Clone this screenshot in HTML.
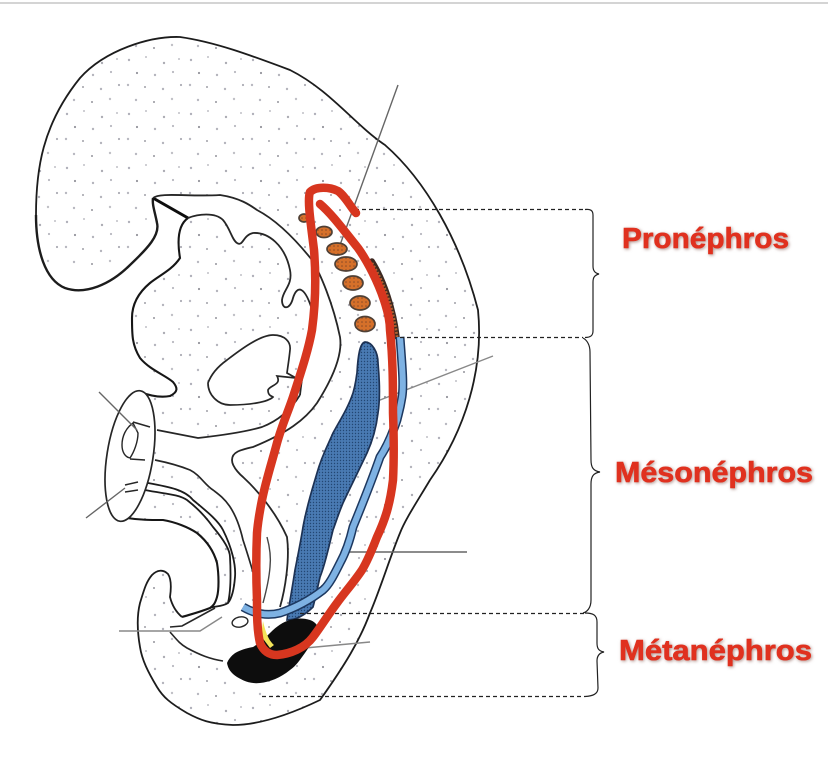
<!DOCTYPE html>
<html>
<head>
<meta charset="utf-8">
<style>
html,body{margin:0;padding:0;background:#fff;width:828px;height:783px;overflow:hidden}
svg{display:block}
text{font-family:"Liberation Sans",sans-serif;font-weight:bold;fill:#e0311f;stroke:#e0311f;stroke-width:.6;font-size:29px;filter:drop-shadow(1px 1.500px 1.500px rgba(120,70,60,.6))}
</style>
</head>
<body>
<svg width="828" height="783" viewBox="0 0 828 783" xmlns="http://www.w3.org/2000/svg">
<defs>
<pattern id="dots" width="62" height="54" patternUnits="userSpaceOnUse">
<circle cx="5" cy="6" r="1.200" fill="#b0b0ba"/>
<circle cx="22" cy="3" r="1" fill="#c0c0c6"/>
<circle cx="40" cy="9" r="1.200" fill="#acacb4"/>
<circle cx="55" cy="5" r="1" fill="#c0c0c6"/>
<circle cx="13" cy="19" r="1.100" fill="#94949c"/>
<circle cx="31" cy="21" r="1.200" fill="#b4b4bc"/>
<circle cx="49" cy="18" r="1.100" fill="#b8b8c0"/>
<circle cx="4" cy="31" r="1.200" fill="#b8b8c0"/>
<circle cx="21" cy="33" r="1" fill="#a0a0a8"/>
<circle cx="39" cy="35" r="1.200" fill="#b4b4bc"/>
<circle cx="57" cy="31" r="1.100" fill="#acacb4"/>
<circle cx="12" cy="46" r="1.200" fill="#b8b8c0"/>
<circle cx="30" cy="48" r="1" fill="#94949c"/>
<circle cx="48" cy="45" r="1.200" fill="#c0c0c6"/>
</pattern>
<pattern id="mesh" width="3" height="3" patternUnits="userSpaceOnUse">
<rect width="3" height="3" fill="#4a7ab3"/>
<circle cx="1.500" cy="1.500" r=".7" fill="#234673"/>
</pattern>
<pattern id="ov" width="4" height="4" patternUnits="userSpaceOnUse">
<rect width="4" height="4" fill="#d5702c"/>
<circle cx="2" cy="2" r=".8" fill="#8a4a26"/>
</pattern>
<filter id="soft" x="-5%" y="-5%" width="110%" height="110%"><feGaussianBlur stdDeviation=".3"/></filter>
</defs>
<rect width="828" height="783" fill="#fff"/>
<rect x="0" y="2" width="828" height="2" fill="#d4d4d4"/>

<g filter="url(#soft)">
<!-- body dots -->
<path d="M36 215C36 170 42 125 80 78C105 50 150 36 180 37C215 42 250 55 290 70C330 90 355 125 385 145C425 180 460 240 478 310C484 370 465 430 430 480C415 505 405 520 400 533C390 557 380 590 370 613C360 640 345 665 320 700C295 712 262 725 233 725C210 724 200 720 187 713C170 703 163 697 157 687C148 672 142 660 140 647C137 630 137 615 140 603C144 590 146 582 152 575C157 570 163 569 168 574C172 580 171 590 170 597C172 605 176 612 182 617L132 350L130 265C110 285 85 295 65 288C45 280 36 250 36 215Z" fill="url(#dots)"/>

<!-- outside white -->
<path d="M153 198L188 218L178 237L180 258L150 283L132 307L132 347L150 370L173 382L177 392L163 397L140 392L110 420L100 520L127 520L163 520L197 533L217 563L217 597L210 608L182 617L170 597L170 580L163 570L152 575L140 603L100 603L0 603L0 265L130 265L157 223Z" fill="#fff"/>

<!-- inner white cavity -->
<path d="M153 198C160 192 190 197 220 195C240 198 250 205 257 210C280 222 300 245 312 260C320 273 333 303 340 337C342 350 338 370 317 403C305 420 287 433 253 447C240 450 232 452 232 460C232 468 243 477 243 477C255 488 275 510 287 537C290 560 285 590 280 607L262 625L250 640L223 661C205 660 187 650 170 632L182 617L157 520L127 518L157 460L157 430L198 438C225 435 245 432 262 427C280 420 292 408 300 395C303 367 308 343 313 313C308 295 300 285 293 298C290 310 282 310 282 300C283 290 293 285 290 270C285 245 268 232 253 233C243 235 243 247 237 243C232 238 228 222 223 220C215 212 200 214 188 218Z" fill="#fff"/>

<!-- dotted bands -->
<path d="M155 460L190 470L213 490L230 505L243 540L253 572L255 608L232 605L232 570L220 540L193 503L148 486Z" fill="url(#dots)"/>
<path d="M127 518L163 520L197 533L217 563L217 597L210 608L229 603L230 557L213 527L187 500L145 490Z" fill="url(#dots)"/>

<!-- outlines -->
<path d="M36 215C36 170 42 125 80 78C105 50 150 36 180 37C215 42 250 55 290 70C330 90 355 125 385 145C425 180 460 240 478 310C484 370 465 430 430 480C415 505 405 520 400 533C390 557 380 590 370 613C360 640 345 665 320 700C295 712 262 725 233 725C210 724 200 720 187 713C170 703 163 697 157 687C148 672 142 660 140 647C137 630 137 615 140 603C144 590 146 582 152 575C157 570 163 569 168 574C172 580 171 590 170 597C172 605 176 612 182 617" fill="none" stroke="#1e1e1e" stroke-width="1.800"/>
<path d="M36 215C36 250 45 280 65 288C85 295 110 285 130 265C148 248 160 235 157 223C155 212 152 205 153 198" fill="none" stroke="#1e1e1e" stroke-width="2.400"/>
<path d="M153 198L188 218" stroke="#111" stroke-width="3" fill="none"/>
<path d="M153 198C160 192 190 197 220 195C240 198 250 205 257 210C280 222 300 245 312 260C320 273 333 303 340 337C342 350 338 370 317 403C305 420 287 433 253 447C240 450 232 452 232 460C232 468 243 477 243 477C255 488 275 510 287 537C290 560 285 590 280 607" fill="none" stroke="#262626" stroke-width="1.800"/>
<path d="M188 218C198 214 215 212 223 220C230 228 232 240 237 243C243 247 243 235 253 233C268 232 285 245 290 270C293 285 283 290 282 300C282 310 290 310 293 298C297 285 305 285 313 313C308 343 303 367 300 395" fill="none" stroke="#262626" stroke-width="1.800"/>
<path d="M188 218C178 225 177 240 180 258C172 270 160 275 150 283C138 293 132 305 132 318C132 335 132 345 140 358C150 370 165 375 173 382C178 388 178 392 170 396C160 398 148 395 140 392" fill="none" stroke="#161616" stroke-width="2.100"/>

<!-- heart oval -->
<path d="M208 383C212 372 220 365 227 360C240 350 260 335 273 335C285 335 291 342 290 350C289 360 288 365 287 373L296 378L277 376C282 385 270 385 268 390C268 396 272 396 273 397C268 402 250 405 230 405C218 405 208 395 208 383Z" fill="#fff" stroke="#262626" stroke-width="1.700"/>

<path d="M157 430L198 438C225 435 245 432 262 427C280 420 292 408 300 395" fill="none" stroke="#262626" stroke-width="1.700"/>
<path d="M155 460C170 463 180 466 190 470C200 475 205 485 213 490C222 497 235 505 243 540C247 552 250 562 253 572" fill="none" stroke="#262626" stroke-width="1.700"/>
<path d="M148 483C170 487 185 490 193 500C205 510 218 520 223 530C232 548 236 565 235 577C234 590 232 598 228 603" fill="none" stroke="#1a1a1a" stroke-width="1.800"/>
<path d="M145 490C165 494 178 494 187 500C200 510 208 520 213 527C224 540 230 550 230 557C231 575 231 590 228 603C222 607 214 606 210 608" fill="none" stroke="#1a1a1a" stroke-width="1.800"/>
<path d="M127 518C140 520 150 520 163 520C175 522 188 527 197 533C208 542 214 552 217 563C219 575 219 590 217 597C215 604 213 606 210 608C200 612 192 614 182 617" fill="none" stroke="#161616" stroke-width="2.100"/>
<path d="M267 537C270 548 271 558 270 567C269 580 266 592 263 603" fill="none" stroke="#444" stroke-width="1.400"/>
<path d="M170 632C177 640 180 644 187 648C200 655 210 659 223 661" fill="none" stroke="#262626" stroke-width="1.600"/>
<path d="M170 627L182 626L215 608" fill="none" stroke="#262626" stroke-width="1.600"/>

<!-- left ellipse -->
<ellipse cx="130" cy="456" rx="23" ry="66" transform="rotate(9 130 456)" fill="#fff" stroke="#262626" stroke-width="1.700"/>
<path d="M133 422L150 427M130 459L145 460M125 485L138 482M125 492L138 490" stroke="#262626" stroke-width="1.500" fill="none"/>
<path d="M133 423C126 428 122 436 122 445C122 452 125 457 130 458C134 452 138 442 138 433Z" fill="#fff" stroke="#262626" stroke-width="1.400"/>
<path d="M99 392L137 430M86 518L125 488" stroke="#666" stroke-width="1.400" fill="none"/>

<!-- pointers -->
<path d="M398 85L352 212L340 245" stroke="#666" stroke-width="1.400" fill="none"/>
<path d="M493 356L375 402" stroke="#888" stroke-width="1.400"/>
<path d="M467 552L345 552" stroke="#666" stroke-width="1.400"/>
<path d="M370 642L305 648" stroke="#888" stroke-width="1.400"/>
<path d="M119 631L200 631L222 617" stroke="#888" stroke-width="1.400" fill="none"/>
<ellipse cx="240" cy="622" rx="8" ry="5" transform="rotate(-12 240 622)" fill="#fff" stroke="#262626" stroke-width="1.400"/>

<!-- nephrotomes -->
<g fill="url(#ov)" stroke="#4f3f35" stroke-width="1.700">
<ellipse cx="304" cy="218" rx="5" ry="4"/>
<ellipse cx="324" cy="232" rx="8" ry="5.500"/>
<ellipse cx="337" cy="249" rx="10" ry="6"/>
<ellipse cx="346" cy="264" rx="11" ry="7"/>
<ellipse cx="353" cy="283" rx="10" ry="7"/>
<ellipse cx="360" cy="303" rx="10" ry="7"/>
<ellipse cx="365" cy="324" rx="10" ry="7.500"/>
</g>
<!-- brown band -->
<path d="M372 261C384 280 394 310 397 337" fill="none" stroke="#3d2a22" stroke-width="5.500" stroke-linecap="round"/>
<path d="M372 263C384 282 394 310 397 337" fill="none" stroke="#b4622f" stroke-width="2.600" stroke-dasharray="2 1.500"/>

<!-- mesonephros -->
<path d="M365 342C372 342 378 352 378 363C380 385 380 400 378 413C376 430 372 442 367 453C358 472 350 488 343 503C338 515 336 522 333 530C328 550 325 565 320 577C317 590 315 600 313 607C305 615 296 620 287 620C289 605 292 590 295 570C298 555 301 540 303 527C307 505 312 490 317 473C322 455 328 445 333 433C340 420 348 408 353 393C356 383 356 378 357 373C358 355 360 343 365 342Z" fill="url(#mesh)" stroke="#1f3355" stroke-width="1.700"/>
<!-- duct -->
<path d="M400 337C402 365 404 385 402 397C400 410 398 415 397 420C392 435 386 448 380 457C372 480 362 505 353 527C350 540 346 552 340 563C334 575 329 585 323 590C310 600 295 608 280 613C268 616 255 614 243 607" fill="none" stroke="#1e3860" stroke-width="9"/>
<path d="M400 337C402 365 404 385 402 397C400 410 398 415 397 420C392 435 386 448 380 457C372 480 362 505 353 527C350 540 346 552 340 563C334 575 329 585 323 590C310 600 295 608 280 613C268 616 255 614 243 607" fill="none" stroke="#7eb2e3" stroke-width="6"/>

<!-- metanephros -->
<path d="M227 663C230 656 235 653 237 652C243 649 248 648 253 647C260 643 265 638 270 633C277 626 283 622 290 620C297 618 304 618 310 620C315 622 318 625 317 628C315 638 311 644 307 650C300 660 296 666 290 670C280 678 270 682 260 683C250 684 244 681 237 677C231 673 228 669 227 663Z" fill="#0b0b0b"/>
<path d="M263 621C265 630 268 640 274 645L270 648L261 636Z" fill="#f3e45a"/>
</g>

<!-- dashed & braces -->
<g fill="none" stroke="#222" stroke-width="1.200">
<path d="M355 209.500H585" stroke-dasharray="4 3"/>
<path d="M400 337.500H583" stroke-dasharray="4 3"/>
<path d="M300 613.500H585" stroke-dasharray="4 3"/>
<path d="M262 696.500H585" stroke-dasharray="4 3"/>
<path d="M585 209.500C590 209 593 210 593 215L593 266C593 271 595 273 599 274C595 275 593 277 593 282L593 331C593 336 590 337.500 585 337.500"/>
<path d="M583 338C587 340 590 345 590 352L591 460C591 467 593 471 600 472C593 473 591 477 591 484L591 600C591 608 587 612 583 613"/>
<path d="M585 613C593 613 597 615 597 622L597 643C597 649 599 651 604 652C599 653 597 656 597 661L598 688C598 694 593 696 585 696.500"/>
</g>

<!-- red outline -->
<path d="M320 204C332 214 345 232 358 248C368 262 378 282 384 300C388 312 390 322 390 330C393 360 393 385 393 413C394 440 394 460 393 480C390 505 385 520 377 537C372 550 368 560 362 570C354 582 345 592 337 603C328 615 320 628 313 637C305 648 290 654 277 655C268 655 263 650 260 643C257 630 257 615 257 600C256 575 256 555 257 533C258 520 260 510 262 500C266 480 272 462 277 443C282 425 288 412 293 397C300 375 308 352 312 330C316 300 316 275 314 250C311 225 307 200 310 192C316 186 330 187 338 191C345 196 350 206 356 213" fill="none" stroke="#d7361f" stroke-width="8.500" stroke-linecap="round" stroke-linejoin="round"/>

<!-- labels -->
<text x="622" y="248" textLength="167" lengthAdjust="spacingAndGlyphs">Pronéphros</text>
<text x="615" y="482" textLength="198" lengthAdjust="spacingAndGlyphs">Mésonéphros</text>
<text x="619" y="660" textLength="193" lengthAdjust="spacingAndGlyphs">Métanéphros</text>
</svg>
</body>
</html>
